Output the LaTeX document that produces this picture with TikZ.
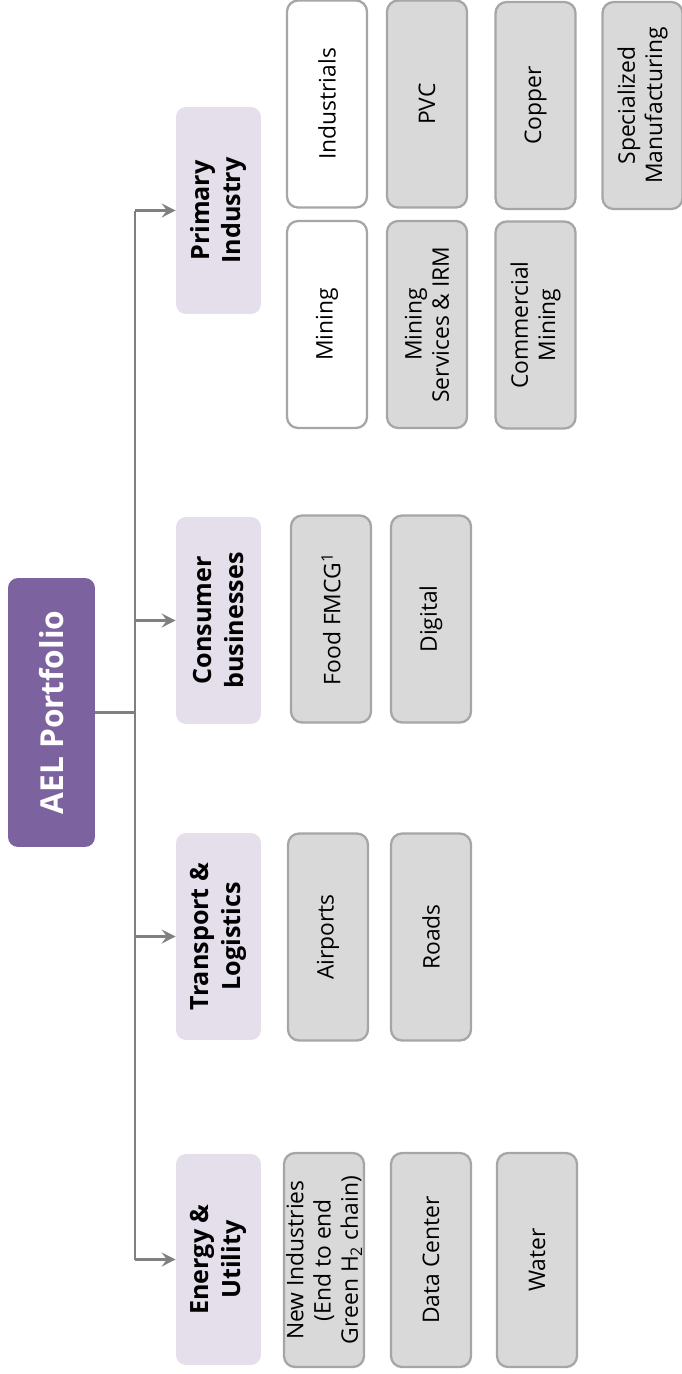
\documentclass[tikz,border=0pt]{standalone}
\usepackage{fontspec}
\setmainfont{Open Sans}
\usetikzlibrary{arrows.meta}

\definecolor{aelpurple}{HTML}{7D62A0}
\definecolor{catlav}{HTML}{E5DFEC}
\definecolor{unitgray}{HTML}{D9D9D9}
\definecolor{unitline}{HTML}{A6A6A6}
\definecolor{linkgray}{HTML}{808080}

\tikzset{
  portfolio/.style={rotate=90, fill=aelpurple, text=white, rounded corners=0.2cm,
    inner sep=0pt, minimum width=5.38cm, minimum height=1.74cm,
    font=\bfseries\fontsize{18}{22}\selectfont},
  category/.style={rotate=90, fill=catlav, rounded corners=0.2cm, align=center,
    inner sep=0pt, minimum width=4.14cm, minimum height=1.7cm,
    font=\bfseries\fontsize{14.3}{18}\selectfont},
  unit/.style={rotate=90, draw=unitline, line width=1.3pt, fill=unitgray,
    rounded corners=0.22cm, align=center, inner sep=0pt,
    minimum width=4.14cm, minimum height=1.6cm,
    font=\fontsize{13}{15.5}\selectfont},
  unitwhite/.style={unit, fill=white},
  link/.style={draw=linkgray, line width=1.4pt}
}

\begin{document}
\begin{tikzpicture}[x=0.02cm, y=-0.02cm]
      \useasboundingbox (0,0) rectangle (682,1374);

      % Root box
      \node[portfolio] (ael) at (51.5,712.5) {AEL Portfolio};

      % Business segments
      \node[category] (pi) at (218.5,210.5) {Primary\\Industry};
      \node[category] (cb) at (218.5,620.5) {Consumer\\businesses};
      \node[category] (tl) at (218.5,936.5) {Transport \&\\Logistics};
      \node[category, minimum width=4.22cm] (eu) at (218.5,1259.5) {Energy \&\\Utility};

      % Primary industry units
      \node[unitwhite] (ind) at (327,104) {Industrials};
      \node[unitwhite] (mng) at (327,324.5) {Mining};
      \node[unit] (pvc) at (427,104) {PVC};
      \node[unit] (msi) at (427,324.5) {Mining\\Services \& IRM};
      \node[unit] (cop) at (535.5,105.5) {Copper};
      \node[unit] (com) at (535.5,325) {Commercial\\Mining};
      \node[unit] (spm) at (642.5,105.5) {Specialized\\Manufacturing};

      % Consumer units
      \node[unit] (fmcg) at (331,619) {Food FMCG\textsuperscript{1}};
      \node[unit] (dig) at (431,619) {Digital};

      % Transport units
      \node[unit] (air) at (328,937) {Airports};
      \node[unit] (rds) at (431,937) {Roads};

      % Energy units
      \node[unit, minimum width=4.28cm] (new) at (324,1260) {New Industries\\(End to end\\Green H\textsubscript{2} chain)};
      \node[unit, minimum width=4.28cm] (dat) at (431,1260) {Data Center};
      \node[unit, minimum width=4.28cm] (wat) at (537,1260) {Water};

      % Spine and arrows
      \coordinate (top) at (135,210.5);
      \coordinate (bot) at (135,1259.5);
      \draw[link] (ael.south) -- (top |- ael.south);
      \draw[link] (top) -- (bot);
      \foreach \c in {pi, cb, tl, eu} {
          \draw[link, -{Stealth[length=8pt, width=8pt, inset=3pt]}] (top |- \c.north) -- (\c.north);
      }
    \end{tikzpicture}
\end{document}
